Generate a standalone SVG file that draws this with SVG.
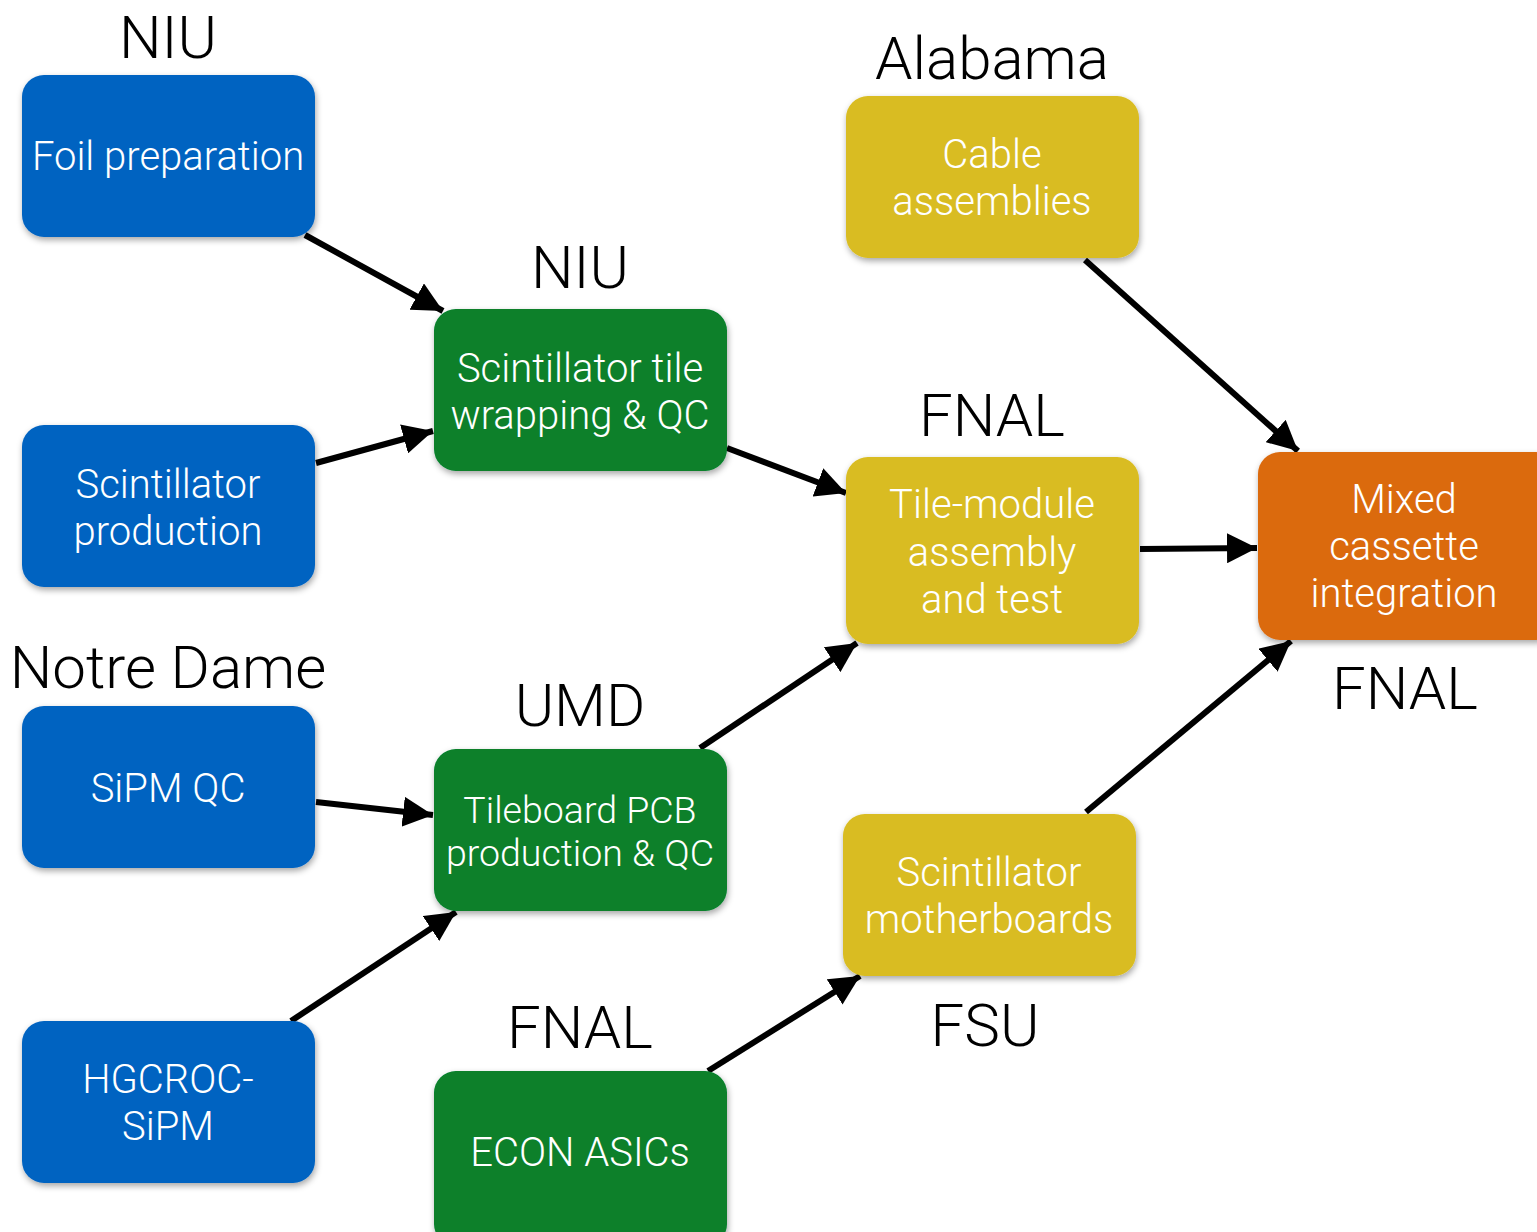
<svg xmlns="http://www.w3.org/2000/svg" width="1537" height="1232" viewBox="0 0 1537 1232">
<style>
.lbl{font-family:Roboto,"Liberation Sans",sans-serif;font-weight:300;font-size:60px;fill:#000;text-anchor:middle}
.nt{font-family:Roboto,"Liberation Sans",sans-serif;font-weight:300;font-size:40px;fill:#fff;text-anchor:middle}
.sm{font-size:37.5px}
.blue{fill:#0563C1}
.green{fill:#07802C}
.yellow{fill:#D9BC20}
.orange{fill:#DB6A0F}
.box{filter:url(#sh)}
.conn line{stroke:#000;stroke-width:6;marker-end:url(#ah)}
</style>
<defs>
<filter id="sh" x="-10%" y="-10%" width="125%" height="130%">
<feDropShadow dx="1" dy="3" stdDeviation="3" flood-color="#000" flood-opacity="0.35"/>
</filter>
<marker id="ah" markerUnits="userSpaceOnUse" markerWidth="30" markerHeight="30" refX="26" refY="13" orient="auto" viewBox="0 0 26 26">
<path d="M0,0 L26,13 L0,26 Z" fill="#000"/>
</marker>
</defs>
<rect width="1537" height="1232" fill="#fff"/>

<g id="labels">
<text class="lbl" x="168" y="58">NIU</text>
<text class="lbl" x="992" y="79">Alabama</text>
<text class="lbl" x="580" y="288">NIU</text>
<text class="lbl" x="992" y="436">FNAL</text>
<text class="lbl" x="168" y="688">Notre Dame</text>
<text class="lbl" x="580" y="726">UMD</text>
<text class="lbl" x="1405" y="709">FNAL</text>
<text class="lbl" x="580" y="1048">FNAL</text>
<text class="lbl" x="985" y="1046">FSU</text>
</g>

<g id="connectors" class="conn">
<line x1="305" y1="235" x2="443" y2="311"/>
<line x1="316" y1="463" x2="433" y2="431"/>
<line x1="727" y1="448" x2="846" y2="493"/>
<line x1="1085" y1="260" x2="1298" y2="451"/>
<line x1="1140" y1="549" x2="1257" y2="548"/>
<line x1="316" y1="802" x2="433" y2="815"/>
<line x1="291" y1="1021" x2="456" y2="912"/>
<line x1="700" y1="748" x2="857" y2="643"/>
<line x1="708" y1="1071" x2="860" y2="976"/>
<line x1="1086" y1="812" x2="1291" y2="641"/>
</g>

<g id="foil"><rect class="box blue" x="22" y="75" width="293" height="162" rx="22"/><text class="nt" x="168" y="170">Foil preparation</text></g>
<g id="sciprod"><rect class="box blue" x="22" y="425" width="293" height="162" rx="22"/><text class="nt" x="168" y="498">Scintillator</text><text class="nt" x="168" y="545">production</text></g>
<g id="sipm"><rect class="box blue" x="22" y="706" width="293" height="162" rx="22"/><text class="nt" x="168" y="802">SiPM QC</text></g>
<g id="hgcroc"><rect class="box blue" x="22" y="1021" width="293" height="162" rx="22"/><text class="nt" x="168" y="1093">HGCROC-</text><text class="nt" x="168" y="1140">SiPM</text></g>

<g id="wrap"><rect class="box green" x="434" y="309" width="293" height="162" rx="22"/><text class="nt" x="580" y="382">Scintillator tile</text><text class="nt" x="580" y="429">wrapping &amp; QC</text></g>
<g id="tileboard"><rect class="box green" x="434" y="749" width="293" height="162" rx="22"/><text class="nt sm" x="580" y="823">Tileboard PCB</text><text class="nt sm" x="580" y="866">production &amp; QC</text></g>
<g id="econ"><rect class="box green" x="434" y="1071" width="293" height="175" rx="22"/><text class="nt" x="580" y="1166">ECON ASICs</text></g>

<g id="cable"><rect class="box yellow" x="846" y="96" width="293" height="162" rx="22"/><text class="nt" x="992" y="168">Cable</text><text class="nt" x="992" y="215">assemblies</text></g>
<g id="tilemodule"><rect class="box yellow" x="846" y="457" width="293" height="187" rx="22"/><text class="nt" x="992" y="518">Tile-module</text><text class="nt" x="992" y="566">assembly</text><text class="nt" x="992" y="613">and test</text></g>
<g id="motherboards"><rect class="box yellow" x="843" y="814" width="293" height="162" rx="22"/><text class="nt" x="989" y="886">Scintillator</text><text class="nt" x="989" y="933">motherboards</text></g>

<g id="mixed"><rect class="box orange" x="1258" y="452" width="300" height="188" rx="22"/><text class="nt" x="1404" y="513">Mixed</text><text class="nt" x="1404" y="560">cassette</text><text class="nt" x="1404" y="607">integration</text></g>
</svg>
